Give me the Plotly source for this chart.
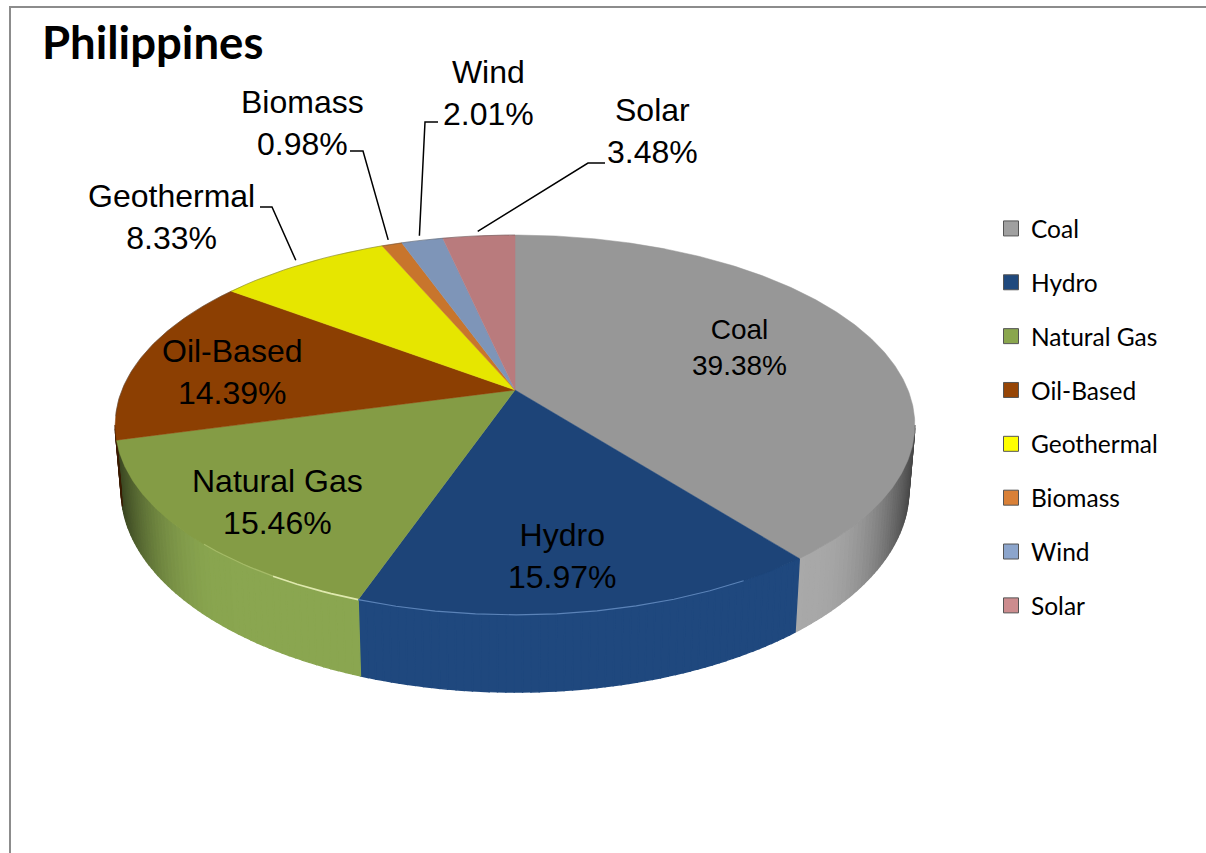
import math
import plotly.graph_objects as go

# ---- data ----
sources = ["Coal", "Hydro", "Natural Gas", "Oil-Based", "Geothermal", "Biomass", "Wind", "Solar"]
shares = [39.38, 15.97, 15.46, 14.39, 8.33, 0.98, 2.01, 3.48]

# ---- styles ----
top_colors = ["#979797", "#1d4478", "#849c45", "#8c3f02", "#e6e600", "#c8752c", "#7e95b8", "#b97b7d"]
wall_colors = ["#a9a9a9", "#1f487e", "#8aa650", "#8c3f02", "#e6e600", "#c8752c", "#7e95b8", "#b97b7d"]
legend_colors = ["#a0a0a0", "#1f497d", "#8aa64e", "#964506", "#ffff00", "#d98037", "#8ca5cc", "#cc8c8e"]
label_xy = [(739, 347), (562, 556), (277, 502), (232, 372), (171, 217), (302, 123), (488, 93), (652, 131)]
label_size = [28, 32, 32, 32, 32, 32, 32, 32]
# leader elbow: (text side x, elbow x, elbow y)
leaders = {4: (260, 272, 207), 5: (350, 363, 151), 6: (438, 425, 122), 7: (605, 588, 163)}

W, H = 1206, 853
CX, CY, A, B, K, DEPTH, NARROW = 515, 390, 393, 183.5, 0.184, 63, 0.985


def rim(theta_deg, r=1.0):
    """Perspective projection of a point of the pie's top circle."""
    t = math.radians(theta_deg)
    u, v = r * math.sin(t), -r * math.cos(t)
    w = 1 - K * v
    return CX + A * u / w, CY + B * v / w


def lowered(theta_deg):
    x, y = rim(theta_deg)
    v = -math.cos(math.radians(theta_deg))
    return CX + (x - CX) * NARROW, y + DEPTH / (1 - K * v)


def shade(hex_color, f):
    r, g, b = (int(hex_color[i:i + 2], 16) for i in (1, 3, 5))
    return "rgb(%d,%d,%d)" % (r * f, g * f, b * f)


# cumulative angles
edges = [0.0]
for s in shares:
    edges.append(edges[-1] + s / sum(shares) * 360)

fig = go.Figure()
VIS_A, VIS_B = 100.6, 259.4

# side walls, drawn as shaded strips
for i, name in enumerate(sources):
    a, b = max(edges[i], VIS_A), min(edges[i + 1], VIS_B)
    if a >= b:
        continue
    n = max(1, int((b - a) / 1.0))
    for j in range(n):
        t0, t1 = a + (b - a) * j / n, a + (b - a) * (j + 1) / n
        p = [rim(t0), rim(t1), lowered(t1), lowered(t0)]
        p.append(p[0])
        nx = abs(rim((t0 + t1) / 2)[0] - CX) / 400
        f = 1.0 if nx < 0.72 else max(0.42, 1 - 0.6 * ((nx - 0.72) / 0.28) ** 2.5)
        col = shade(wall_colors[i], f)
        fig.add_trace(go.Scatter(x=[q[0] for q in p], y=[q[1] for q in p], mode="lines",
                                 fill="toself", fillcolor=col, line=dict(color=col, width=1.4),
                                 hoverinfo="skip", showlegend=False))

# top faces
for i, name in enumerate(sources):
    n = max(2, int(edges[i + 1] - edges[i]) * 2)
    pts = [(CX, CY)] + [rim(edges[i] + (edges[i + 1] - edges[i]) * j / n) for j in range(n + 1)] + [(CX, CY)]
    fig.add_trace(go.Scatter(x=[q[0] for q in pts], y=[q[1] for q in pts], mode="lines",
                             fill="toself", fillcolor=top_colors[i],
                             line=dict(color=top_colors[i], width=0.5),
                             hovertemplate=f"{name}: {shares[i]:.2f}%<extra></extra>", showlegend=False))

# back-rim edge and the front highlights
back = [rim(t) for t in range(262, 361, 2)]
back_x, back_y = [q[0] for q in back], [q[1] for q in back]
fig.add_trace(go.Scatter(x=back_x, y=back_y, mode="lines", line=dict(color="rgba(70,70,70,0.4)", width=1),
                         hoverinfo="skip", showlegend=False))
for (t_start, t_end, col, wid) in [(edges[2], edges[2] + 12, "#dfe9ae", 1.6),
                                   (edges[2] + 12, edges[2] + 24, "#a5bb68", 1.2),
                                   (edges[1] + 9, edges[2], "#5b83b8", 1.2)]:
    arc = [rim(t_start + (t_end - t_start) * j / 10) for j in range(11)]
    fig.add_trace(go.Scatter(x=[q[0] for q in arc], y=[q[1] for q in arc], mode="lines",
                             line=dict(color=col, width=wid), hoverinfo="skip", showlegend=False))

# legend entries
for i, name in enumerate(sources):
    fig.add_trace(go.Scatter(x=[None], y=[None], mode="markers", name=name, legendgroup=name,
                             marker=dict(symbol="square", size=15, color=legend_colors[i],
                                         line=dict(color="#555555", width=1)),
                             hoverinfo="skip"))

# data labels
annotations = []
for i, name in enumerate(sources):
    annotations.append(dict(x=label_xy[i][0], y=label_xy[i][1], xref="x", yref="y",
                            text=f"{name}<br>{shares[i]:.2f}%", showarrow=False,
                            xanchor="center", yanchor="middle", align="center",
                            font=dict(family="Liberation Sans", size=label_size[i], color="#000000")))

# leader lines, ending just outside the rim at each wedge's middle
shapes = [dict(type="path", path=f"M10,{H} L10,7 L{W},7", xref="x", yref="y",
               line=dict(color="#8c8c8c", width=2))]
for i, (x0, xe, ye) in leaders.items():
    ex, ey = rim((edges[i] + edges[i + 1]) / 2, 1.035)
    shapes.append(dict(type="path", path=f"M{x0},{ye} L{xe},{ye} L{ex:.1f},{ey:.1f}", xref="x", yref="y",
                       line=dict(color="#000000", width=1.5)))

fig.update_layout(
    width=W, height=H, margin=dict(l=0, r=0, t=0, b=0),
    paper_bgcolor="#ffffff", plot_bgcolor="#ffffff",
    xaxis=dict(range=[0, W], visible=False, fixedrange=True),
    yaxis=dict(range=[H, 0], visible=False, fixedrange=True),
    title=dict(text="<b>Philippines</b>", x=42 / W, y=1 - 43 / H, xanchor="left", yanchor="middle",
               xref="paper", yref="paper",
               font=dict(family="Lato", size=45.5, color="#000000")),
    legend=dict(x=991 / W, y=1 - 206 / H, xanchor="left", yanchor="top", bgcolor="rgba(0,0,0,0)",
                tracegroupgap=19, font=dict(family="Lato", size=24.5, color="#000000")),
    annotations=annotations, shapes=shapes,
)

fig.write_html("out.html", post_script="document.body.style.margin='0';",
               config={"displayModeBar": False})
